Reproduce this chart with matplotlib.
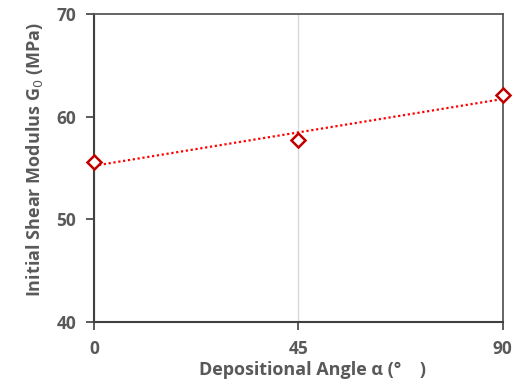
import numpy as np
import matplotlib.pyplot as plt

# data
angles = [0, 45, 90]
g0_values = [55.6, 57.7, 62.1]
x_ticks = [0, 45, 90]
y_ticks = [40, 50, 60, 70]

text_color = '#595959'
plt.rcParams['font.family'] = ['Open Sans', 'DejaVu Sans']

fig = plt.figure(figsize=(5.2, 3.87), dpi=100)
ax = fig.add_axes([0.181, 0.168, 0.786, 0.796])

# linear trendline through the points
slope, intercept = np.polyfit(angles, g0_values, 1)
trend_x = np.array([min(angles), max(angles)])
ax.plot(trend_x, slope * trend_x + intercept, linestyle=(0, (1, 1.2)),
        color='#FF0000', linewidth=1.6, zorder=2)

ax.plot(angles, g0_values, linestyle='none', marker='D', markersize=7,
        markerfacecolor='white', markeredgecolor='#C00000',
        markeredgewidth=1.8, zorder=3, clip_on=False)

ax.set_xlim(0, 90)
ax.set_ylim(40, 70)
ax.set_xticks(x_ticks)
ax.set_yticks(y_ticks)
ax.xaxis.grid(True, color='#D9D9D9', linewidth=1)
ax.set_axisbelow(True)

for side in ['left', 'bottom']:
    ax.spines[side].set_color('#404040')
    ax.spines[side].set_linewidth(1.5)
for side in ['top', 'right']:
    ax.spines[side].set_color('#595959')
    ax.spines[side].set_linewidth(1.3)

ax.tick_params(axis='both', direction='out', length=6, width=1.2,
               color='#404040', labelsize=12.5, labelcolor=text_color)
ax.tick_params(axis='x', pad=7)
ax.tick_params(axis='y', pad=7)
for lbl in ax.get_xticklabels() + ax.get_yticklabels():
    lbl.set_fontweight('bold')

ax.set_xlabel('Depositional Angle α (°    )', fontsize=13, fontweight='bold',
              color=text_color)
ax.set_ylabel('Initial Shear Modulus G$_0$ (MPa)', fontsize=13,
              fontweight='bold', color=text_color)
ax.xaxis.set_label_coords(0.535, -0.128)
ax.yaxis.set_label_coords(-0.12, 0.526)

fig.savefig('out.png', dpi=100)
